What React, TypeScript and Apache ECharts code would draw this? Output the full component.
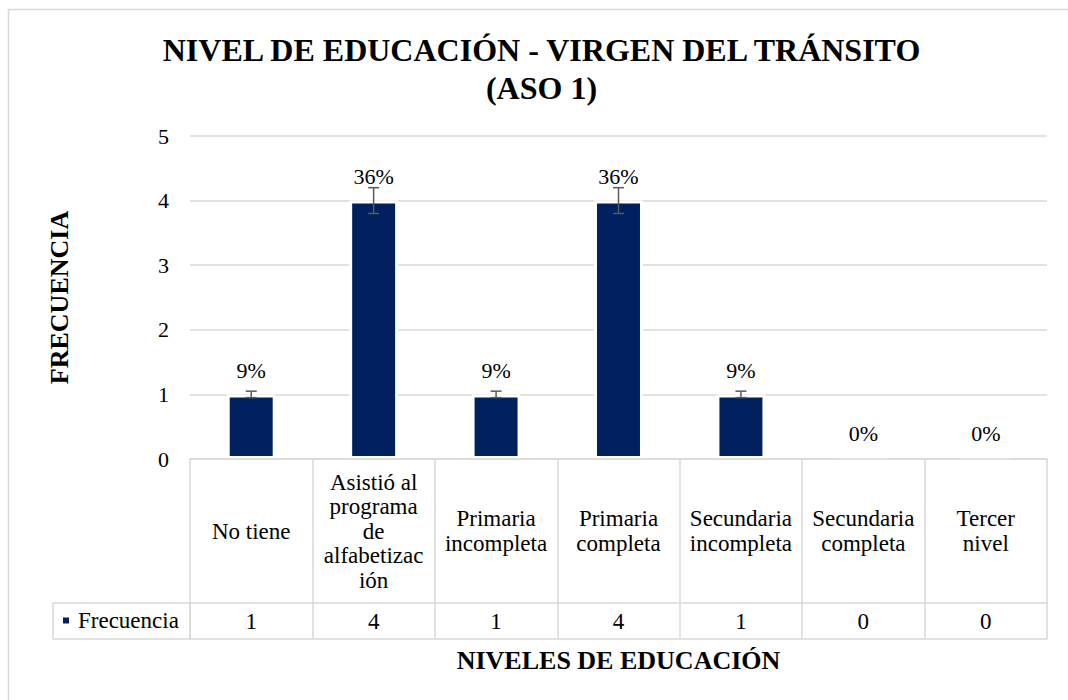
import React, { useEffect, useRef } from "react";
import * as echarts from "echarts";

const categories = [
  "No tiene",
  "Asistió al programa de alfabetización",
  "Primaria incompleta",
  "Primaria completa",
  "Secundaria incompleta",
  "Secundaria completa",
  "Tercer nivel",
];
const categoryLabels = [
  "No tiene",
  "Asistió al\nprograma\nde\nalfabetizac\nión",
  "Primaria\nincompleta",
  "Primaria\ncompleta",
  "Secundaria\nincompleta",
  "Secundaria\ncompleta",
  "Tercer\nnivel",
];
const frecuencia = [1, 4, 1, 4, 1, 0, 0];
const percentLabels = ["9%", "36%", "9%", "36%", "9%", "0%", "0%"];
const errorAmounts = [0.05, 0.2, 0.05, 0.2, 0.05, 0, 0];
const yTicks = { min: 0, max: 5, interval: 1 };

const FONT = "Liberation Serif";
const GRID_COLOR = "#d9d9d9";
const BAR_COLOR = "#002060";

export default function App() {
  const ref = useRef<HTMLDivElement>(null);

  useEffect(() => {
    if (!ref.current) return;
    const chart = echarts.init(ref.current, undefined, { renderer: "svg" });
    const valueRow = frecuencia.map((v) => String(v));
    const plainText = { fontFamily: FONT, fontWeight: "normal" as const, fontStyle: "normal" as const, color: "#000" };

    chart.setOption({
      animation: false,
      backgroundColor: "#ffffff",
      textStyle: { fontFamily: FONT, color: "#000" },
      grid: { left: 190, right: 21, top: 136, bottom: 241 },
      legend: {
        data: ["Frecuencia"],
        left: 61,
        top: 609,
        icon: "rect",
        itemWidth: 8,
        itemHeight: 8,
        itemGap: 0,
        padding: 0,
        textStyle: { ...plainText, fontSize: 23, padding: [0, 0, 0, 3] },
        selectedMode: false,
      },
      graphic: [
        {
          type: "rect",
          silent: true,
          shape: { x: 8.5, y: 9.5, width: 1100, height: 720 },
          style: { fill: "none", stroke: GRID_COLOR, lineWidth: 1.5 },
        },
        {
          type: "rect",
          silent: true,
          shape: { x: 53, y: 603, width: 137, height: 36 },
          style: { fill: "none", stroke: GRID_COLOR, lineWidth: 1.5 },
        },
        {
          type: "text",
          silent: true,
          x: 541.5,
          y: 31,
          style: {
            text: "NIVEL DE EDUCACIÓN - VIRGEN DEL TRÁNSITO\n(ASO 1)",
            textAlign: "center",
            textVerticalAlign: "top",
            fontFamily: FONT,
            fontWeight: "bold",
            fontSize: 32,
            lineHeight: 38,
            fill: "#000",
          },
        },
      ],
      xAxis: [
        {
          type: "category",
          data: categories,
          position: "bottom",
          z: 3,
          axisLine: { show: true, lineStyle: { color: GRID_COLOR, width: 1.5 } },
          axisTick: { show: true, interval: 0, length: 180, lineStyle: { color: GRID_COLOR, width: 1.5 } },
          axisLabel: {
            ...plainText,
            interval: 0,
            margin: 72,
            verticalAlign: "middle",
            fontSize: 23,
            lineHeight: 24.5,
            formatter: (_v: string, i: number) => categoryLabels[i],
          },
          splitLine: { show: false },
        },
        {
          type: "category",
          data: valueRow,
          position: "bottom",
          offset: 144,
          z: 3,
          axisLine: { show: true, lineStyle: { color: GRID_COLOR, width: 1.5 } },
          axisTick: { show: false },
          axisLabel: {
            ...plainText,
            interval: 0,
            margin: 18,
            verticalAlign: "middle",
            fontSize: 23,
          },
          name: "NIVELES DE EDUCACIÓN",
          nameLocation: "middle",
          nameGap: 44,
          nameTextStyle: { fontSize: 26, fontWeight: "bold", color: "#000", fontFamily: FONT },
        },
        {
          type: "category",
          data: categories,
          position: "bottom",
          offset: 180,
          z: 3,
          axisLine: { show: true, lineStyle: { color: GRID_COLOR, width: 1.5 } },
          axisTick: { show: false },
          axisLabel: { show: false },
        },
      ],
      yAxis: {
        type: "value",
        min: yTicks.min,
        max: yTicks.max,
        interval: yTicks.interval,
        axisLine: { show: false },
        axisTick: { show: false },
        axisLabel: { ...plainText, fontSize: 22, margin: 21 },
        splitLine: { lineStyle: { color: GRID_COLOR, width: 1.5 } },
        name: "FRECUENCIA",
        nameLocation: "middle",
        nameGap: 118,
        nameRotate: 90,
        nameTextStyle: { fontSize: 26, fontWeight: "bold", color: "#000", fontFamily: FONT },
      },
      series: [
        {
          name: "Frecuencia",
          type: "bar",
          xAxisIndex: 0,
          data: frecuencia,
          barWidth: "40%",
          itemStyle: { color: BAR_COLOR, borderColor: "#ffffff", borderWidth: 3 },
          label: {
            ...plainText,
            show: true,
            position: "top",
            distance: 13,
            fontSize: 22,
            formatter: (p: any) => percentLabels[p.dataIndex],
          },
          z: 2,
        },
        {
          name: "error",
          type: "custom",
          xAxisIndex: 0,
          z: 5,
          silent: true,
          data: frecuencia.map((v, i) => [i, v, errorAmounts[i]]),
          renderItem: (params: any, api: any) => {
            const i = api.value(0);
            const v = api.value(1);
            const e = api.value(2);
            if (!e) return { type: "group", children: [] };
            const top = api.coord([i, v + e]);
            const bot = api.coord([i, v - e]);
            const hw = 5.5;
            const style = { stroke: "#595959", lineWidth: 1.5 };
            return {
              type: "group",
              children: [
                { type: "line", shape: { x1: top[0], y1: top[1], x2: bot[0], y2: bot[1] }, style },
                { type: "line", shape: { x1: top[0] - hw, y1: top[1], x2: top[0] + hw, y2: top[1] }, style },
                { type: "line", shape: { x1: bot[0] - hw, y1: bot[1], x2: bot[0] + hw, y2: bot[1] }, style },
              ],
            };
          },
        },
      ],
    });

    return () => chart.dispose();
  }, []);

  return (
    <div
      ref={ref}
      style={{ position: "absolute", left: 0, top: 0, width: 1068, height: 700, background: "#fff" }}
    />
  );
}
